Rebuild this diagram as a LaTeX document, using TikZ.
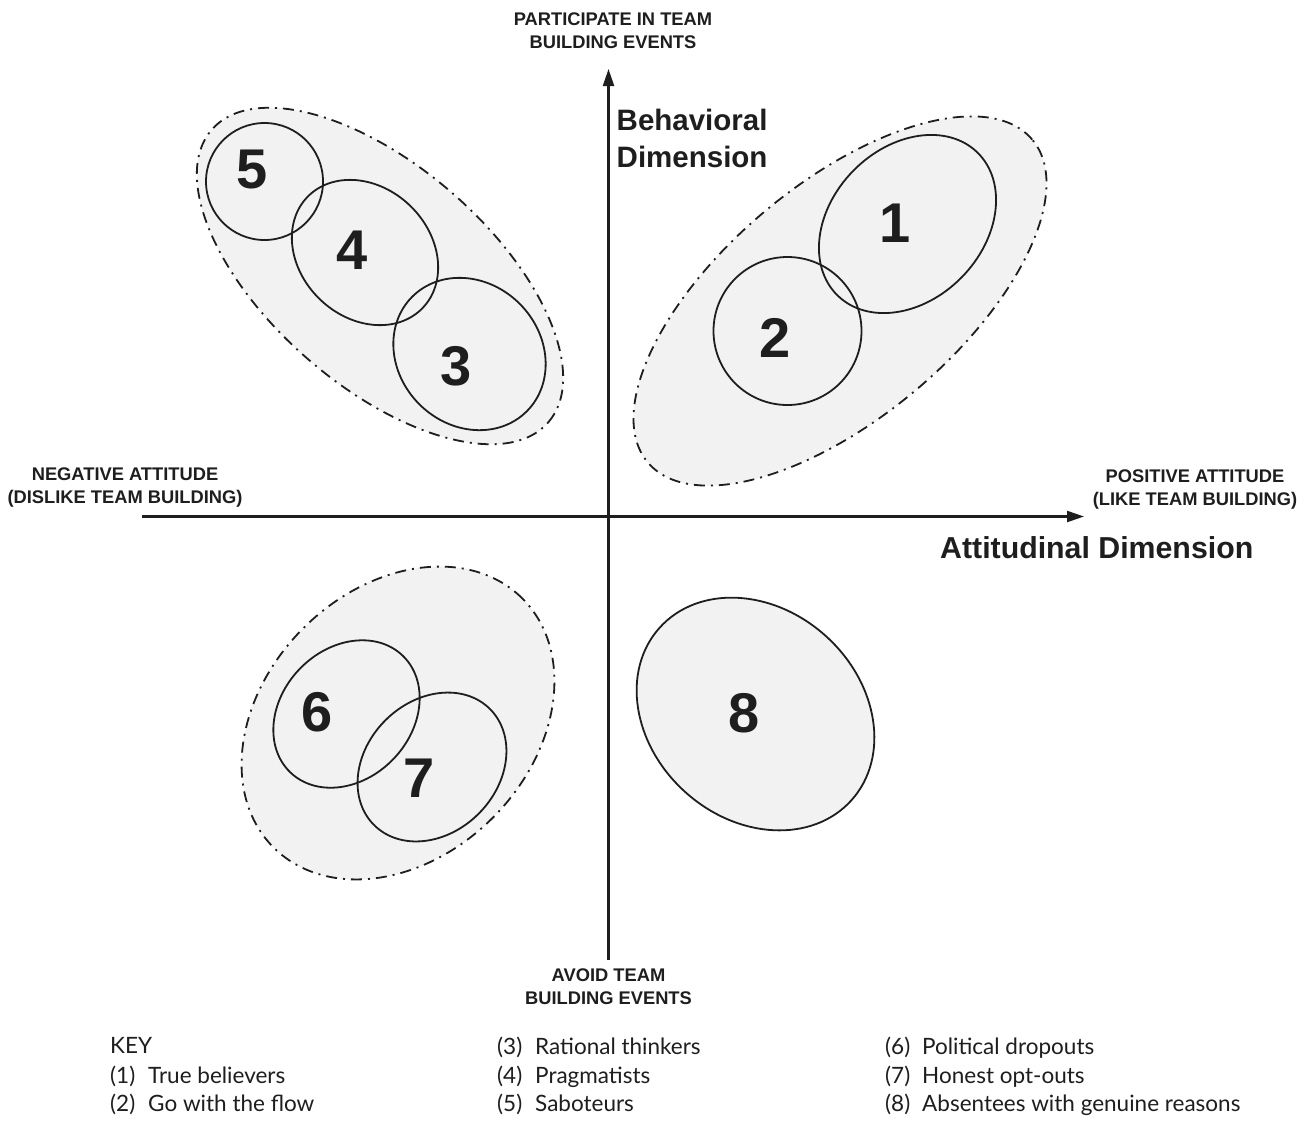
\documentclass[tikz,border=0pt]{standalone}
\usepackage{fontspec}
\setmainfont{Liberation Sans}
\newfontfamily\keyfont{Lato}
\usetikzlibrary{arrows.meta}
\definecolor{grpfill}{HTML}{F2F2F2}
\definecolor{ink}{HTML}{1E1E1E}
\begin{document}
\begin{tikzpicture}[x=1pt,y=-1pt,
  group/.style={fill=grpfill, draw=ink, line width=1.8pt, dash pattern=on 11pt off 6pt on 2pt off 6pt},
  seg/.style={draw=ink, line width=1.8pt},
  solidgrp/.style={fill=grpfill, draw=ink, line width=1.8pt},
  num/.style={font=\fontsize{56}{56}\selectfont\bfseries, inner sep=0pt, text=ink},
  axis/.style={draw=ink, line width=2.2pt, -{Triangle[length=17pt,width=11pt]}},
  capsl/.style={font=\fontsize{18.3}{23}\selectfont\bfseries, align=center, inner sep=0pt, text=ink},
  dimlbl/.style={font=\fontsize{29.5}{37}\selectfont\bfseries, inner sep=0pt, text=ink},
  keytxt/.style={font=\keyfont\fontsize{22.5}{26}\selectfont, inner sep=0pt, anchor=base west, text=ink}]
\useasboundingbox (0,0) rectangle (1314,1120);
\fill[white] (0,0) rectangle (1314,1120);

% group outlines
\draw[group, rotate around={-41:(380,276)}] (380,276) ellipse [x radius=223pt, y radius=110pt];
\draw[group, rotate around={40:(840,301)}] (840,301) ellipse [x radius=251pt, y radius=117pt];
\draw[group, rotate around={45:(398,723)}] (398,723) ellipse [x radius=176pt, y radius=134pt];
\draw[solidgrp, rotate around={-42:(755.5,714)}] (755.5,714) ellipse [x radius=129pt, y radius=105pt];

% segments
\draw[seg] (264.5,181.5) circle [radius=58.5pt];
\draw[seg, rotate around={-44:(365,252.5)}] (365,252.5) ellipse [x radius=80pt, y radius=65pt];
\draw[seg, rotate around={-45:(469.5,354)}] (469.5,354) ellipse [x radius=81pt, y radius=71pt];
\draw[seg, rotate around={45.6:(907.5,224)}] (907.5,224) ellipse [x radius=100pt, y radius=76pt];
\draw[seg] (787.5,331) circle [radius=74pt];
\draw[seg, rotate around={46:(346.5,714)}] (346.5,714) ellipse [x radius=81pt, y radius=65pt];
\draw[seg, rotate around={45:(432,767)}] (432,767) ellipse [x radius=82pt, y radius=66pt];

% numbers
\node[num] (n1) at (895,223) {1};
\node[num] (n2) at (775,337.5) {2};
\node[num] (n3) at (456.5,366) {3};
\node[num] (n4) at (352.5,250.5) {4};
\node[num] (n5) at (252.5,170) {5};
\node[num] (n6) at (317.5,712.5) {6};
\node[num] (n7) at (419,778) {7};
\node[num] (n8) at (744,713) {8};

% axes
\coordinate (vbot) at (608.5,960);
\coordinate (vtop) at (608.5,69);
\coordinate (hleft) at (142,516.5);
\coordinate (hright) at (1084,516.5);
\draw[axis] (vbot) -- (vtop);
\draw[axis] (hleft) -- (hright);

% axis labels
\node[capsl] (ltop) at (613,30.5) {PARTICIPATE IN TEAM\\BUILDING EVENTS};
\node[capsl] (lbot) at (608.5,987) {AVOID TEAM\\BUILDING EVENTS};
\node[capsl] (lneg) at (125,487) {NEGATIVE ATTITUDE\\(DISLIKE TEAM BUILDING)};
\node[capsl] (lpos) at (1195,489) {POSITIVE ATTITUDE\\(LIKE TEAM BUILDING)};
\node[dimlbl, align=left, anchor=west] (lbeh) at (616.5,138.5) {Behavioral\\Dimension};
\node[dimlbl, font=\fontsize{30.3}{37}\selectfont\bfseries, anchor=base west] (latt) at (940,558) {Attitudinal Dimension};

% key
\node[keytxt] (key) at (110,1053) {KEY};
\node[keytxt] (k1n) at (110,1083) {(1)};
\node[keytxt] (k1t) at (148,1083) {True believers};
\node[keytxt] (k2n) at (110,1111) {(2)};
\node[keytxt] (k2t) at (148,1111) {Go with the flow};
\node[keytxt] (k3n) at (497,1054) {(3)};
\node[keytxt] (k3t) at (535,1054) {Rational thinkers};
\node[keytxt] (k4n) at (497,1083) {(4)};
\node[keytxt] (k4t) at (535,1083) {Pragmatists};
\node[keytxt] (k5n) at (497,1111) {(5)};
\node[keytxt] (k5t) at (535,1111) {Saboteurs};
\node[keytxt] (k6n) at (885,1054) {(6)};
\node[keytxt] (k6t) at (922,1054) {Political dropouts};
\node[keytxt] (k7n) at (885,1083) {(7)};
\node[keytxt] (k7t) at (922,1083) {Honest opt-outs};
\node[keytxt] (k8n) at (885,1111) {(8)};
\node[keytxt] (k8t) at (922,1111) {Absentees with genuine reasons};
\end{tikzpicture}
\end{document}
